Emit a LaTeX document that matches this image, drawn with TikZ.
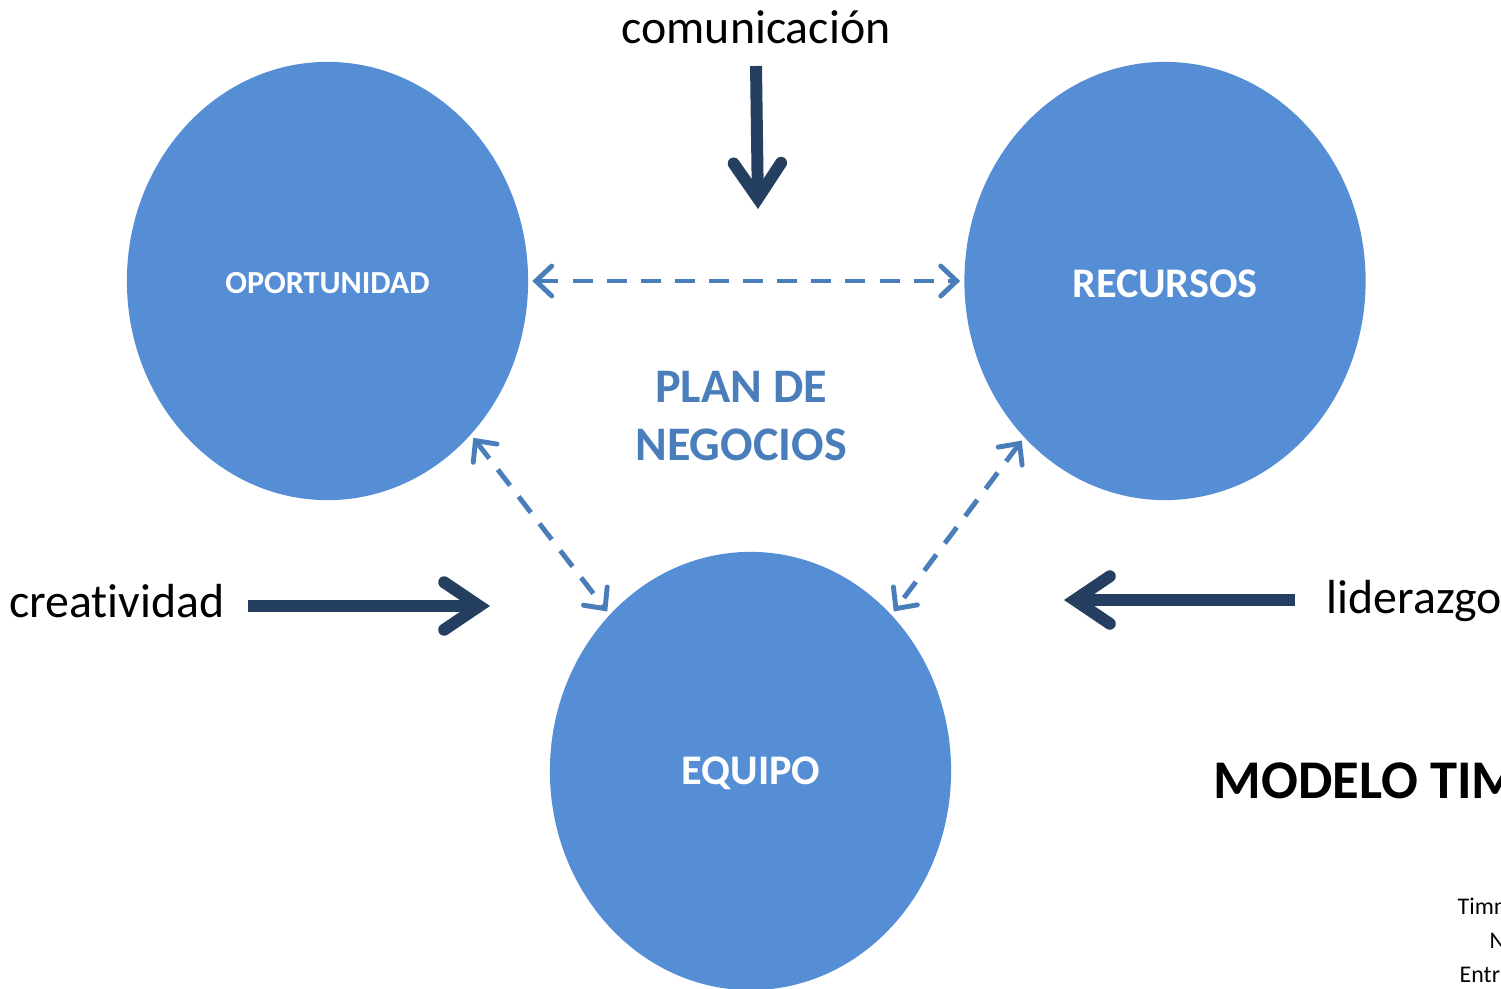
\documentclass[tikz,border=0pt]{standalone}
\usepackage{fontspec}
\setmainfont{Carlito}[Ligatures=NoCommon]
\usetikzlibrary{arrows.meta,shapes.geometric}
\definecolor{circ}{HTML}{558ED5}
\definecolor{dasharr}{HTML}{4A7EBB}
\definecolor{darkarr}{HTML}{243F60}
\tikzset{
  bubble/.style={ellipse, fill=circ, draw=none, inner sep=0pt, minimum width=4.01cm, minimum height=4.38cm},
  intext/.style={text=white, inner sep=0pt},
  dasharrow/.style={draw=dasharr, line width=1.4pt, dash pattern=on 5.7pt off 4pt, {Straight Barb[length=4.5pt,width=8.5pt,line cap=round]}-{Straight Barb[length=4.5pt,width=8.5pt,line cap=round]}, shorten <=1pt, shorten >=1pt},
  bigarrow/.style={draw=darkarr, line width=3.4pt, -{Straight Barb[length=10pt,width=13.5pt,line cap=round]}},
  lbl/.style={font=\fontsize{13.6}{16}\selectfont, inner sep=0pt},
}
\begin{document}
\begin{tikzpicture}[x=0.01cm,y=-0.01cm]
\useasboundingbox (0,0) rectangle (1501,988);
\clip (0,0) rectangle (1501,988);
\fill[white] (0,0) rectangle (1501,988);

\node[bubble] (op) at (327.5,281) {};
\node[bubble] (rec) at (1165,281) {};
\node[bubble] (eq) at (750.5,771) {};
\node[intext, font=\bfseries\fontsize{9.15}{11}\selectfont] (opt) at (327.5,283) {OPORTUNIDAD};
\node[intext, font=\bfseries\fontsize{12}{14}\selectfont] (rect) at (1165,284) {RECURSOS};
\node[intext, font=\bfseries\fontsize{12}{14}\selectfont] (eqt) at (751,773) {EQUIPO};

\node[text=dasharr, font=\bfseries\fontsize{13.7}{16.5}\selectfont, align=center, inner sep=0pt] (plan) at (741,416) {PLAN DE\\NEGOCIOS};

\draw[dasharrow] (op.east) -- (rec.west);
\draw[dasharrow] (op.-47) -- (eq.132);
\draw[dasharrow] (rec.-132) -- (eq.48);

\node[lbl] (com) at (756,27) {comunicación};
\node[lbl, anchor=east] (cre) at (225,601) {creatividad};
\node[lbl, anchor=west] (lid) at (1326,601) {liderazgo};

\coordinate (c1) at (756,66);
\coordinate (c2) at (758,209);
\coordinate (k1) at (248,606);
\coordinate (k2) at (490,606);
\coordinate (l1) at (1295,600);
\coordinate (l2) at (1064,600);
\draw[bigarrow] (c1) -- (c2);
\draw[bigarrow] (k1) -- (k2);
\draw[bigarrow] (l1) -- (l2);

\node[font=\bfseries\fontsize{15.5}{18}\selectfont, anchor=west, inner sep=0pt] (mod) at (1213,781) {MODELO TIMMONS};
\node[font=\fontsize{6.8}{8}\selectfont, anchor=west, inner sep=0pt] (t1) at (1457,906) {Timmons};
\node[font=\fontsize{6.8}{8}\selectfont, anchor=west, inner sep=0pt] (t2) at (1489,941) {N};
\node[font=\fontsize{6.8}{8}\selectfont, anchor=west, inner sep=0pt] (t3) at (1459,975) {Entr};
\end{tikzpicture}
\end{document}
